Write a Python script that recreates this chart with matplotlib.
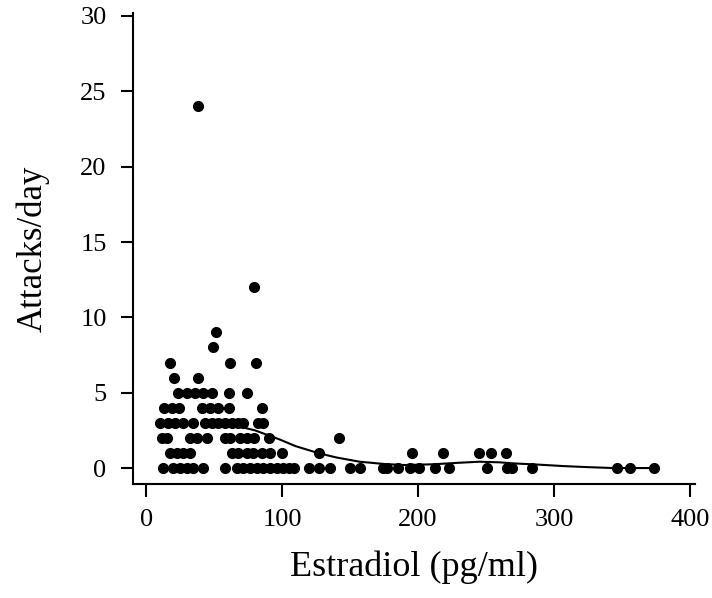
import numpy as np
import matplotlib.pyplot as plt

plt.rcParams["font.family"] = ["Liberation Serif", "DejaVu Serif"]

# estradiol (pg/ml) of each observation, grouped by attacks/day
x_24 = [38]
x_12 = [79.5]
x_9 = [51]
x_8 = [49]
x_7 = [17.4, 61.4, 80.5]
x_6 = [20.4, 38.3]
x_5 = [23.6, 29.7, 35.8, 42, 48.1, 60.6, 73.9]
x_4 = [13.3, 18.7, 24.3, 40.8, 46.9, 53, 61.1, 84.9]
x_3 = [10.1, 16.2, 21.1, 27.2, 34.6, 43.2, 48.1, 53, 57.9, 62.8, 67.7, 71.4,
       82.4, 86.1]
x_2 = [11.3, 15.5, 32.2, 37.1, 44.9, 57.9, 61.6, 68.9, 73.9, 79.3, 90.5, 141.6]
x_1 = [17.4, 22.4, 27.2, 32.2, 62.8, 67.7, 73.9, 78.7, 84.9, 91, 99.6, 127.3,
       195.5, 218.5, 244.8, 253.4, 264.9]
x_0 = [12.5, 19.9, 24.8, 29.7, 34.6, 41.5, 57.9, 66.5, 71.4, 76.3, 81.2, 86.1,
       91, 95.9, 100.8, 105, 109, 119.7, 127.3, 135.2, 149.9, 157.2, 174.4,
       176.9, 185.4, 194, 200.9, 212.4, 222.7, 250.5, 265.2, 268.9, 284,
       346.1, 355.9, 373.6]

groups = {24: x_24, 12: x_12, 9: x_9, 8: x_8, 7: x_7, 6: x_6, 5: x_5, 4: x_4,
          3: x_3, 2: x_2, 1: x_1, 0: x_0}
estradiol = np.concatenate([np.array(v, float) for v in groups.values()])
attacks = np.concatenate([np.full(len(v), k, float) for k, v in groups.items()])

# smoothed fit
curve_x = [50, 62, 80, 98, 110, 127, 140, 157, 175, 190, 211, 230, 245, 260,
           270, 290, 307, 325, 344, 374]
curve_y = [3.1, 2.9, 2.5, 1.9, 1.45, 0.98, 0.7, 0.42, 0.27, 0.2, 0.25, 0.35,
           0.42, 0.38, 0.31, 0.22, 0.13, 0.06, 0.0, 0.0]

fig = plt.figure(figsize=(7.12, 5.98), dpi=100)
ax = fig.add_axes([0.1868, 0.1906, 0.9761 - 0.1868, 0.9783 - 0.1906])

ax.plot(curve_x, curve_y, color="black", lw=1.5, zorder=2)
ax.plot(estradiol, attacks, "o", color="black", ms=7, zorder=3)

ax.set_xlim(-9.8, 403.8)
ax.set_ylim(-1.06, 30.2)
ax.set_xticks([0, 100, 200, 300, 400])
ax.set_yticks([0, 5, 10, 15, 20, 25, 30])

for side in ["top", "right"]:
    ax.spines[side].set_visible(False)
for side in ["left", "bottom"]:
    ax.spines[side].set_linewidth(1.5)
ax.tick_params(direction="out", length=9, width=1.5, labelsize=19)
ax.tick_params(axis="x", pad=9)
ax.tick_params(axis="y", pad=10)

ax.set_xlabel("Estradiol (pg/ml)", fontsize=26, labelpad=14)
ax.set_ylabel("Attacks/day", fontsize=25, labelpad=22)

fig.savefig("out.png", dpi=100)
